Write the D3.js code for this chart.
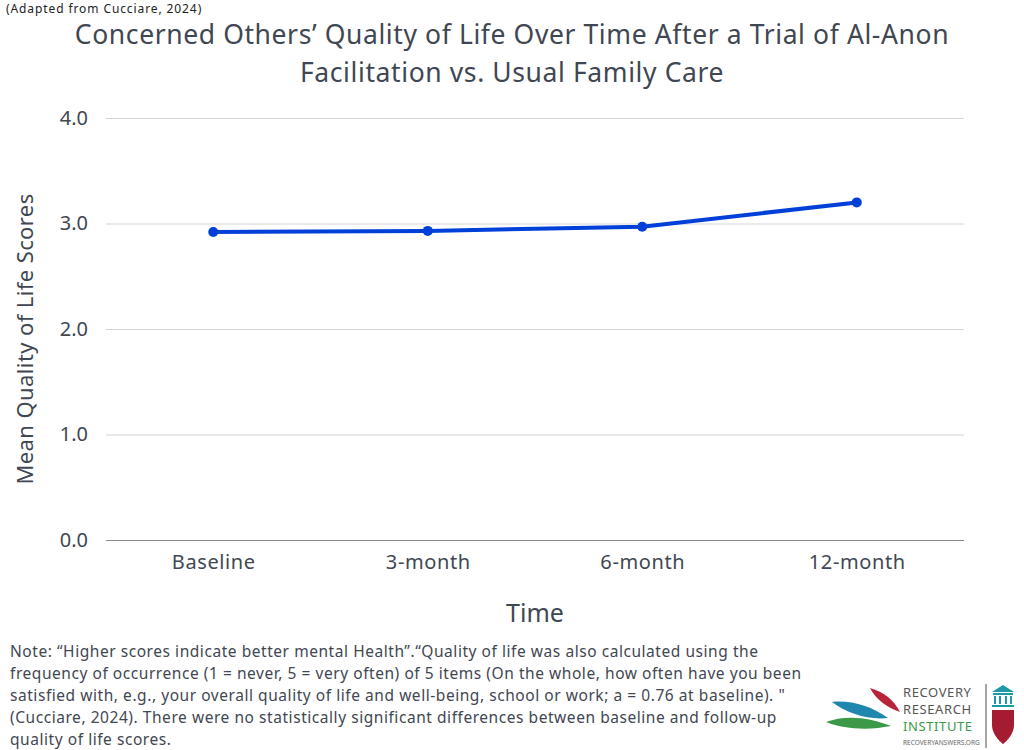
<!DOCTYPE html>
<html>
<head>
<meta charset="utf-8">
<script src="https://cdn.jsdelivr.net/npm/d3@7"></script>
<style>
  body { margin: 0; background: #fff; }
  text { font-family: "Noto Sans", "DejaVu Sans", sans-serif; fill: #3f4752; }
</style>
</head>
<body>
<svg id="chart" width="1024" height="750"></svg>
<script>
// chart values
var timepoints = ["Baseline", "3-month", "6-month", "12-month"];
var qolScores = [2.92, 2.93, 2.97, 3.20];
var yTicks = [0, 1, 2, 3, 4];

var titleLines = [
  "Concerned Others\u2019 Quality of Life Over Time After a Trial of Al-Anon",
  "Facilitation vs. Usual Family Care"
];
var noteLines = [
  "Note: \u201cHigher scores indicate better mental Health\u201d.\u201cQuality of life was also calculated using the",
  "frequency of occurrence (1 = never, 5 = very often) of 5 items (On the whole, how often have you been",
  "satisfied with, e.g., your overall quality of life and well-being, school or work; a = 0.76 at baseline). \"",
  "(Cucciare, 2024). There were no statistically significant differences between baseline and follow-up",
  "quality of life scores."
];

var svg = d3.select("#chart");

var margin = { left: 106, right: 60, top: 118, bottom: 210 };
var width = 1024 - margin.left - margin.right;
var height = 750 - margin.top - margin.bottom;

var x = d3.scalePoint().domain(timepoints).range([0, width]).padding(0.5);
var y = d3.scaleLinear().domain([0, 4]).range([height, 0]);

var g = svg.append("g").attr("transform", "translate(" + margin.left + "," + margin.top + ")");

/************** titles **************/
svg.append("text")
  .attr("x", 6).attr("y", 12.5)
  .style("font-size", "12px")
  .style("letter-spacing", "0.9px")
  .style("fill", "#222")
  .text("(Adapted from Cucciare, 2024)");

svg.selectAll(".title")
  .data(titleLines)
  .enter()
  .append("text")
  .attr("class", "title")
  .attr("x", 512)
  .attr("y", function (d, i) { return 44 + i * 38; })
  .attr("text-anchor", "middle")
  .style("font-size", "26.5px")
  .style("letter-spacing", "0.6px")
  .text(function (d) { return d; });

/************** grid + axes **************/
var yAxis = d3.axisLeft(y)
  .tickValues(yTicks)
  .tickSize(-width)
  .tickPadding(18)
  .tickFormat(d3.format(".1f"));

var yG = g.append("g").call(yAxis);
yG.select(".domain").remove();
yG.selectAll(".tick line")
  .attr("stroke", function (d) { return d === 0 ? "#8a8a8a" : "#d4d4d4"; })
  .attr("stroke-width", 1);
yG.selectAll(".tick text")
  .style("font-size", "20px")
  .style("fill", "#3f4752");

var xAxis = d3.axisBottom(x).tickSize(0).tickPadding(12);
var xG = g.append("g").attr("transform", "translate(0," + height + ")").call(xAxis);
xG.select(".domain").remove();
xG.selectAll(".tick text")
  .style("font-size", "20px")
  .style("letter-spacing", "0.6px")
  .style("fill", "#3f4752")
  .attr("dy", "0.85em");

svg.append("text")
  .attr("x", margin.left + width / 2)
  .attr("y", 622)
  .attr("text-anchor", "middle")
  .style("font-size", "25px")
  .text("Time");

svg.append("text")
  .attr("transform", "translate(33,339) rotate(-90)")
  .attr("text-anchor", "middle")
  .style("font-size", "22px")
  .style("letter-spacing", "0.4px")
  .text("Mean Quality of Life Scores");

/************** line **************/
var line = d3.line()
  .x(function (d, i) { return x(timepoints[i]); })
  .y(function (d) { return y(d); });

g.append("path")
  .datum(qolScores)
  .attr("fill", "none")
  .attr("stroke", "#0040d8")
  .attr("stroke-width", 4)
  .attr("d", line);

g.selectAll(".pt")
  .data(qolScores)
  .enter()
  .append("circle")
  .attr("class", "pt")
  .attr("cx", function (d, i) { return x(timepoints[i]); })
  .attr("cy", function (d) { return y(d); })
  .attr("r", 5)
  .attr("fill", "#0040d8");

/************** note **************/
svg.selectAll(".note")
  .data(noteLines)
  .enter()
  .append("text")
  .attr("class", "note")
  .attr("x", 10)
  .attr("y", function (d, i) { return 657 + i * 22; })
  .style("font-size", "15.5px")
  .style("letter-spacing", "0.55px")
  .text(function (d) { return d; });

/************** logo **************/
var logo = svg.append("g").attr("transform", "translate(826,682)");
logo.append("path")
  .attr("d", "M0,40 C20,32 45,36 65,44 C45,48 20,48 0,40 Z")
  .attr("fill", "#3a9a48");
logo.append("path")
  .attr("d", "M6,20 C25,18 45,24 62,36 C42,38 22,32 6,20 Z")
  .attr("fill", "#1f86ad");
logo.append("path")
  .attr("d", "M44,6 C58,10 68,18 74,30 C62,26 50,18 44,6 Z")
  .attr("fill", "#b8243a");

var logoText = [
  { t: "RECOVERY", y: 15, c: "#555", s: 13 },
  { t: "RESEARCH", y: 32, c: "#555", s: 13 },
  { t: "INSTITUTE", y: 49, c: "#3a9a48", s: 13 },
  { t: "RECOVERYANSWERS.ORG", y: 63, c: "#666", s: 6.5 }
];
logo.selectAll(".lt")
  .data(logoText)
  .enter()
  .append("text")
  .attr("x", 77)
  .attr("y", function (d) { return d.y; })
  .style("font-size", function (d) { return d.s + "px"; })
  .style("letter-spacing", function (d) { return d.s > 10 ? "0.6px" : "0px"; })
  .style("fill", function (d) { return d.c; })
  .text(function (d) { return d.t; });

logo.append("line")
  .attr("x1", 160).attr("x2", 160).attr("y1", 2).attr("y2", 66)
  .attr("stroke", "#888").attr("stroke-width", 1.5);

// building icon
var bld = logo.append("g").attr("transform", "translate(166,2)").attr("fill", "#1c9aa3");
bld.append("path").attr("d", "M0,8 L11,1 L22,8 Z");
bld.append("rect").attr("x", 1).attr("y", 9).attr("width", 20).attr("height", 2);
[2, 7, 13, 18].forEach(function (px) {
  bld.append("rect").attr("x", px).attr("y", 12).attr("width", 2).attr("height", 8);
});
bld.append("rect").attr("x", 0).attr("y", 21).attr("width", 22).attr("height", 2);

// shield
logo.append("path")
  .attr("d", "M166,28 L188,28 L188,43 C188,54 177,62 177,62 C177,62 166,54 166,43 Z")
  .attr("fill", "#a51c30");
</script>
</body>
</html>
